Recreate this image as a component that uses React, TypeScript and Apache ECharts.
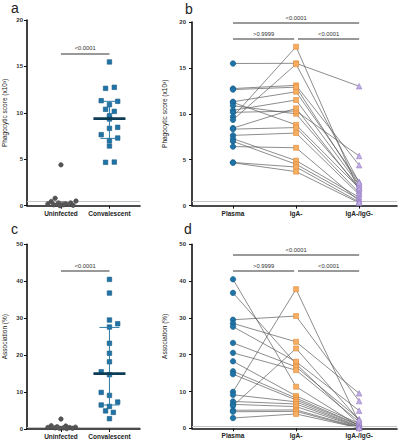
import React, { useEffect, useRef } from "react";
import * as echarts from "echarts";

// ---------- DATA ----------
const groupCatsAC = ["Uninfected", "Convalescent"];
const groupCatsBD = ["Plasma", "IgA-", "IgA-/IgG-"];

// Panel a: phagocytic score (x10^3)
const uninfA = [4.4, 0.8, 0.5, 0.45, 0.3, 0.3, 0.2, 0.2, 0.1, 0.1, 0.05, 0.0];
const uninfAJitter = [0, -0.12, 0.31, -0.2, -0.05, 0.2, -0.27, 0.1, -0.15, 0.05, 0.25, -0.02];
const convA = [15.48, 12.64, 12.75, 11.31, 11.24, 10.88, 10.38, 10.16, 9.69, 9.34, 8.44, 8.33, 7.65, 7.29, 7.0, 6.43, 4.67, 4.7];
const convAJitter = [0, -0.08, 0.1, -0.17, 0.17, 0, -0.08, 0.1, 0, 0, 0.17, 0, -0.17, 0.17, 0, 0, -0.08, 0.1];
const uninfASummary = [0.1, 0.2, 0.4]; // q1, median, q3
const convASummary = [7.25, 9.37, 11.24];

// Panel b: paired samples (phagocytic score)
const plasmaB = [15.48, 12.75, 12.64, 11.31, 11.24, 10.88, 10.38, 10.16, 9.69, 9.34, 8.44, 8.33, 7.65, 7.29, 7.0, 6.43, 4.7, 4.67];
const igaB = [15.5, 13.1, 12.9, 12.4, 8.8, 10.0, 11.5, 10.3, 17.3, 15.4, 10.6, 8.5, 7.9, 4.9, 4.5, 6.3, 4.2, 3.7];
const igaIggB = [13.0, 4.4, 2.3, 2.6, 1.9, 2.0, 2.2, 5.4, 1.6, 2.5, 1.8, 1.4, 1.2, 0.9, 0.7, 0.5, 0.4, 0.3];

// Panel c: association (%)
const uninfC = [2.7, 0.9, 0.8, 0.6, 0.5, 0.4, 0.4, 0.3, 0.3, 0.2, 0.2, 0.1];
const uninfCJitter = [0, -0.2, 0.1, -0.08, 0.3, -0.27, 0.18, -0.12, 0.05, 0.24, -0.03, 0.12];
const convC = [40.5, 36.8, 29.5, 28.5, 27.6, 23.2, 20.5, 18.2, 15.5, 14.7, 9.9, 9.1, 7.3, 6.5, 6.1, 4.9, 4.5, 2.8];
const convCJitter = [0, 0, 0, 0.17, 0, 0, 0, 0, -0.17, 0, -0.17, 0, 0.17, -0.17, 0, -0.08, 0.08, 0];
const uninfCSummary = [0.2, 0.4, 0.7];
const convCSummary = [6.5, 15.0, 27.5];

// Panel d: paired samples (association)
const plasmaD = [40.5, 36.8, 29.5, 28.5, 27.6, 23.2, 20.5, 18.2, 15.5, 14.7, 9.9, 9.1, 7.3, 6.5, 6.1, 4.9, 4.5, 2.8];
const igaD = [11.3, 17.5, 30.5, 23.5, 18.1, 16.7, 15.8, 8.8, 8.2, 7.7, 37.8, 7.2, 6.6, 5.9, 21.7, 5.0, 4.6, 3.9];
const igaIggD = [0.6, 1.0, 7.4, 9.5, 4.8, 2.5, 1.8, 1.3, 0.9, 0.8, 1.5, 0.5, 0.4, 0.3, 2.2, 0.2, 0.1, 0.1];

// Significance brackets: [fromCat, toCat, yLevel, label]
const bracketsA: [number, number, number, string][] = [[1, 2, 16.4, "<0.0001"]];
const bracketsB: [number, number, number, string][] = [
  [1, 3, 19.9, "<0.0001"],
  [1, 1.97, 18.2, ">0.9999"],
  [2.03, 3, 18.2, "<0.0001"],
];
const bracketsC: [number, number, number, string][] = [[1, 2, 42.9, "<0.0001"]];
const bracketsD: [number, number, number, string][] = [
  [1, 3, 47.1, "<0.0001"],
  [1, 1.97, 42.7, ">0.9999"],
  [2.03, 3, 42.7, "<0.0001"],
];
const lodAB = 0.5;
const lodCD = 0.55;

const yTitleAB = "Phagocytic score (x10³)";
const yTitleCD = "Association (%)";
const panelLetters = ["a", "b", "c", "d"];

// ---------- STYLE ----------
const FONT = 'Arial, "Liberation Sans", sans-serif';
const BLUE = "#1f73a6";
const BLUE_DARK = "#175b85";
const ORANGE = "#f5ae62";
const ORANGE_DARK = "#e08a35";
const PURPLE = "#c2afe2";
const PURPLE_DARK = "#957bc6";
const GRAY_PT = "#555555";
const LINE_GRAY = "#5c5c5c";

function App() {
  const ref = useRef<HTMLDivElement>(null);

  useEffect(() => {
    if (!ref.current) return;
    const chart = echarts.init(ref.current, null, { renderer: "svg" });

    const grids = [
      { left: 26, top: 20, width: 114, height: 185.7 },
      { left: 192, top: 22, width: 205, height: 183.6 },
      { left: 26, top: 244.3, width: 114, height: 185 },
      { left: 192, top: 244.3, width: 205, height: 184 },
    ];

    const xAxisFor = (gi: number, cats: string[]) => {
      const two = cats.length === 2;
      const vals = cats.map((_, i) => i + 1);
      return {
        type: "value",
        gridIndex: gi,
        min: two ? 0.3 : 0.35,
        max: two ? 2.63 : 3.6,
        splitLine: { show: false },
        axisLine: { show: true, onZero: false, lineStyle: { color: "#111", width: 1.6 } },
        axisTick: { show: true, customValues: vals, length: 3, lineStyle: { color: "#111", width: 1 } },
        axisLabel: {
          customValues: vals,
          formatter: (v: number) => cats[Math.round(v) - 1] ?? "",
          fontSize: 6.5,
          fontWeight: "bold",
          fontFamily: FONT,
          color: "#222",
          margin: 4,
        },
      };
    };

    const yAxisFor = (gi: number, max: number, interval: number, name: string, gap: number, margin: number) => ({
      type: "value",
      gridIndex: gi,
      min: 0,
      max,
      interval,
      name,
      nameLocation: "middle",
      nameGap: gap,
      nameTextStyle: { fontSize: 6.5, fontFamily: FONT, color: "#222", fontWeight: 500 },
      splitLine: { show: false },
      axisLine: { show: true, lineStyle: { color: "#111", width: 1.6 } },
      axisTick: { show: true, length: 3, lineStyle: { color: "#111", width: 1 } },
      axisLabel: { fontSize: 6, fontWeight: "bold", fontFamily: FONT, color: "#333", margin: margin },
    });

    const markLinesFor = (brackets: [number, number, number, string][], lod: number) => ({
      silent: true,
      symbol: ["none", "none"],
      animation: false,
      data: [
        { yAxis: lod, lineStyle: { color: "#c4c4c4", width: 1, type: "solid" }, label: { show: false } },
        ...brackets.map((b) => [
          {
            coord: [b[0], b[2]],
            name: b[3],
            lineStyle: { color: "#777", width: 1.6, type: "solid" },
            label: {
              show: true,
              position: "insideMiddleTop",
              formatter: "{b}",
              fontSize: 5.8,
              fontFamily: FONT,
              color: "#333",
              distance: 2,
            },
          },
          { coord: [b[1], b[2]] },
        ]),
      ],
    });

    const scatter = (gi: number, data: number[][], symbol: string, size: number, fill: string, border: string, extra: any = {}) => ({
      type: "scatter",
      xAxisIndex: gi,
      yAxisIndex: gi,
      symbol,
      symbolSize: size,
      data,
      z: 5,
      itemStyle: { color: fill, borderColor: border, borderWidth: 0.6, opacity: 1 },
      ...extra,
    });

    const summary = (gi: number, x: number, s: number[], wColor: string, mColor: string, medHalf: number, capHalf: number, medW: number) => ({
      type: "custom",
      xAxisIndex: gi,
      yAxisIndex: gi,
      z: 10,
      data: [[x, s[0], s[1], s[2]]],
      encode: { x: 0, y: [1, 2, 3] },
      renderItem: (_p: any, api: any) => {
        const xv = api.value(0);
        const lo = api.coord([xv, api.value(1)]);
        const md = api.coord([xv, api.value(2)]);
        const hi = api.coord([xv, api.value(3)]);
        const st = { stroke: wColor, lineWidth: 1 };
        return {
          type: "group",
          children: [
            { type: "line", shape: { x1: lo[0], y1: lo[1], x2: hi[0], y2: hi[1] }, style: st },
            { type: "line", shape: { x1: lo[0] - capHalf, y1: lo[1], x2: lo[0] + capHalf, y2: lo[1] }, style: st },
            { type: "line", shape: { x1: hi[0] - capHalf, y1: hi[1], x2: hi[0] + capHalf, y2: hi[1] }, style: st },
            { type: "line", shape: { x1: md[0] - medHalf, y1: md[1], x2: md[0] + medHalf, y2: md[1] }, style: { stroke: mColor, lineWidth: medW } },
          ],
        };
      },
    });

    const pairLines = (gi: number, a: number[], b: number[], c: number[]) =>
      a.map((v, i) => ({
        type: "line",
        xAxisIndex: gi,
        yAxisIndex: gi,
        data: [[1, v], [2, b[i]], [3, c[i]]],
        showSymbol: false,
        symbol: "none",
        silent: true,
        z: 2,
        lineStyle: { color: LINE_GRAY, width: 0.7 },
      }));

    const jit = (base: number, vals: number[], j: number[]) => vals.map((v, i) => [base + j[i], v]);
    const col = (x: number, vals: number[]) => vals.map((v) => [x, v]);

    const series: any[] = [
      // a
      scatter(0, jit(1, uninfA, uninfAJitter), "circle", 4.5, GRAY_PT, "#444", { markLine: markLinesFor(bracketsA, lodAB) }),
      scatter(0, jit(2, convA, convAJitter), "rect", 4.5, BLUE, BLUE_DARK),
      summary(0, 1, uninfASummary, "#666", "#555", 8, 5, 2),
      summary(0, 2, convASummary, "#2a7aa6", "#0d3c55", 16, 9, 2.8),
      // b
      ...pairLines(1, plasmaB, igaB, igaIggB),
      scatter(1, col(1, plasmaB), "circle", 5.5, BLUE, BLUE_DARK, { markLine: markLinesFor(bracketsB, lodAB) }),
      scatter(1, col(2, igaB), "rect", 5, ORANGE, ORANGE_DARK),
      scatter(1, col(3, igaIggB), "triangle", 5.5, PURPLE, PURPLE_DARK),
      // c
      scatter(2, jit(1, uninfC, uninfCJitter), "circle", 4.5, GRAY_PT, "#444", { markLine: markLinesFor(bracketsC, lodCD) }),
      scatter(2, jit(2, convC, convCJitter), "rect", 4.5, BLUE, BLUE_DARK),
      summary(2, 1, uninfCSummary, "#666", "#555", 8, 5, 2),
      summary(2, 2, convCSummary, "#2a7aa6", "#0d3c55", 16, 10, 2.8),
      // d
      ...pairLines(3, plasmaD, igaD, igaIggD),
      scatter(3, col(1, plasmaD), "circle", 5.5, BLUE, BLUE_DARK, { markLine: markLinesFor(bracketsD, lodCD) }),
      scatter(3, col(2, igaD), "rect", 5, ORANGE, ORANGE_DARK),
      scatter(3, col(3, igaIggD), "triangle", 5.5, PURPLE, PURPLE_DARK),
    ];

    const letterPos = [[11, 1], [185, 2], [11, 222], [184, 222]];
    const letters = panelLetters.map((t, i) => ({
      type: "text",
      x: letterPos[i][0],
      y: letterPos[i][1],
      style: { text: t, fontSize: 14, fontFamily: FONT, fill: "#222", verticalAlign: "top" },
    }));

    chart.setOption({
      animation: false,
      backgroundColor: "#ffffff",
      grid: grids,
      xAxis: [xAxisFor(0, groupCatsAC), xAxisFor(1, groupCatsBD), xAxisFor(2, groupCatsAC), xAxisFor(3, groupCatsBD)],
      yAxis: [
        yAxisFor(0, 20, 5, yTitleAB, 19, 4),
        yAxisFor(1, 20, 5, yTitleAB, 24, 6),
        yAxisFor(2, 50, 10, yTitleCD, 19, 4),
        yAxisFor(3, 50, 10, yTitleCD, 22, 6),
      ],
      series,
      graphic: letters,
    });

    return () => chart.dispose();
  }, []);

  return <div ref={ref} style={{ position: "fixed", left: 0, top: 0, width: 402, height: 440 }} />;
}

export default App;
